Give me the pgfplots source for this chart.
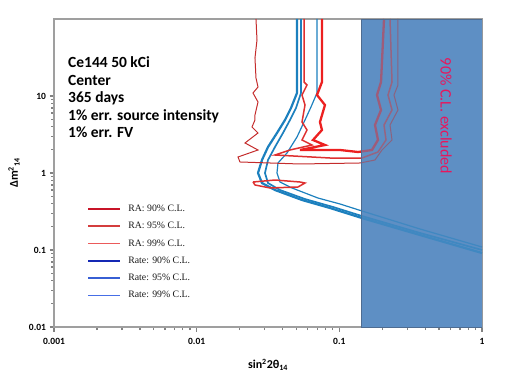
\documentclass[border=0pt]{standalone}
\usepackage{fontspec}
\setmainfont{Carlito}
\newfontfamily\serifleg{Liberation Serif}
\usepackage{pgfplots}
\pgfplotsset{compat=1.18}
\definecolor{rateblue}{RGB}{28,128,190}
\definecolor{redA}{RGB}{236,32,32}
\definecolor{redB}{RGB}{222,48,48}
\definecolor{redC}{RGB}{196,44,44}
\definecolor{legRa}{RGB}{200,20,40}
\definecolor{legRb}{RGB}{212,62,62}
\definecolor{legRc}{RGB}{235,90,90}
\definecolor{legBa}{RGB}{20,40,180}
\definecolor{legBb}{RGB}{55,95,212}
\definecolor{legBc}{RGB}{70,110,230}
\definecolor{exclblue}{RGB}{94,143,196}
\definecolor{exclborder}{RGB}{78,108,145}
\definecolor{exctext}{RGB}{232,22,92}
\definecolor{axgray}{RGB}{130,130,130}
\begin{document}
\begin{tikzpicture}
\path[use as bounding box] (0,0) rectangle (506pt,383pt);
\begin{axis}[
  at={(54pt,56pt)}, anchor=south west,
  width=428pt, height=308pt, scale only axis,
  xmode=log, ymode=log,
  xmin=0.001, xmax=1, ymin=0.01, ymax=100,
  xtick={0.001,0.01,0.1,1}, xticklabels={0.001,0.01,0.1,1},
  ytick={0.01,0.1,1,10}, yticklabels={0.01,0.1,1,10},
  minor xtick={0.002,0.003,0.004,0.005,0.006,0.007,0.008,0.009,0.02,0.03,0.04,0.05,0.06,0.07,0.08,0.09,0.2,0.3,0.4,0.5,0.6,0.7,0.8,0.9},
  minor ytick={},
  xtick pos=left, ytick pos=left,
  tick align=outside,
  major tick length=4.5pt, minor tick length=3pt,
  xtick style={draw=axgray, line width=1.3pt},
  ytick style={draw=axgray, line width=1.3pt},
  axis line style={draw=gray!75, line width=1.3pt},
  /pgf/number format/assume math mode=true,
  ticklabel style={font=\bfseries\fontsize{9.5}{10}\selectfont},
  xticklabel style={yshift=-3pt},
  legend style={draw=none, fill=none, at={(0.07,0.405)}, anchor=north west,
    font=\serifleg\fontsize{9.8}{10}\selectfont, text=gray!20!black,
    nodes={inner sep=0pt, text height=7pt, text depth=2pt},
    row sep=8.3pt, /tikz/every odd column/.style={column sep=7pt}},
  legend cell align=left,
  legend image code/.code={\draw[#1] (0pt,0pt) -- (32pt,0pt);},
]
% opaque excluded region
\fill[exclblue] (axis cs:0.1419,0.01) rectangle (axis cs:1,100);

% Rate contours
\addplot[color=rateblue, line width=2.2pt, forget plot] coordinates {
(0.0505,100) (0.0505,10.94) (0.04584,6.99) (0.0416,4.88) (0.03657,3.31) (0.03162,2.177) (0.0287,1.475) (0.02691,1.0) (0.0287,0.741) (0.0354,0.601) (0.05475,0.446) (0.08602,0.351) (0.1442,0.260) (0.3677,0.1566) (1.0,0.0914)};
\addplot[color=rateblue, line width=1.7pt, forget plot] coordinates {
(0.05387,100) (0.05387,10.94) (0.04969,6.99) (0.0451,4.88) (0.04028,3.31) (0.0354,2.177) (0.03162,1.475) (0.03012,1.0) (0.03162,0.741) (0.03838,0.601) (0.05746,0.459) (0.09028,0.362) (0.1442,0.276) (0.3677,0.1663) (1.0,0.1)};
\addplot[color=rateblue, line width=1.2pt, forget plot] coordinates {
(0.06973,100) (0.06973,10.94) (0.0633,7.20) (0.05746,4.88) (0.0505,2.935) (0.04297,1.819) (0.03716,1.349) (0.03657,1.0) (0.03838,0.764) (0.04658,0.639) (0.07087,0.473) (0.1011,0.396) (0.1442,0.321) (0.3677,0.1874) (1.0,0.1094)};

% RA contours
\addplot[color=redC, line width=1.0pt, forget plot] coordinates {
(0.02605,100) (0.02648,53.4) (0.02563,31.2) (0.02605,17.13) (0.02691,13.09) (0.02482,10.94) (0.02691,8.36) (0.02563,5.67) (0.02563,4.88) (0.02442,3.96) (0.02691,3.31) (0.02182,2.453) (0.02691,1.99) (0.01949,1.614) (0.02012,1.39) (0.05301,1.309) (0.1396,1.349) (0.1778,1.475) (0.1991,1.99) (0.234,2.683) (0.2266,4.20) (0.2577,6.58) (0.2416,10.30) (0.2577,13.89) (0.2577,100)};
\addplot[color=redB, line width=1.5pt, forget plot] coordinates {
(0.05654,100) (0.05654,15.2) (0.05934,13.89) (0.05475,10.30) (0.05746,7.64) (0.05475,4.60) (0.05934,3.62) (0.05475,2.683) (0.06432,2.31) (0.0451,1.99) (0.0354,1.713) (0.08602,1.566) (0.1442,1.566) (0.1866,1.874) (0.2124,2.683) (0.2057,4.20) (0.234,6.58) (0.2194,10.30) (0.234,15.2) (0.2266,100)};
\addplot[color=redB, line width=1.5pt, forget plot] coordinates {
(0.02482,0.764) (0.0354,0.811) (0.05301,0.764) (0.05746,0.741) (0.05132,0.658) (0.03266,0.639) (0.02563,0.699) (0.02482,0.764)};
\addplot[color=redA, line width=2.3pt, forget plot] coordinates {
(0.07558,100) (0.07558,15.2) (0.06973,10.30) (0.07933,7.64) (0.07318,4.60) (0.07558,3.62) (0.06537,2.683) (0.07933,2.31) (0.05301,1.99) (0.1011,1.99) (0.1352,1.874) (0.1694,1.99) (0.1866,2.683) (0.1778,4.20) (0.196,6.58) (0.1837,10.30) (0.196,15.2) (0.2057,100)};

% translucent overlay of excluded region
\fill[exclblue, fill opacity=0.55] (axis cs:0.1419,0.01) rectangle (axis cs:1,100);
\draw[exclborder, line width=0.9pt] (axis cs:0.1419,0.01) rectangle (axis cs:1,100);

% legend
\addlegendimage{color=legRa, line width=2.2pt}
\addlegendentry{RA: 90\% C.L.}
\addlegendimage{color=legRb, line width=1.6pt}
\addlegendentry{RA: 95\% C.L.}
\addlegendimage{color=legRc, line width=1.2pt}
\addlegendentry{RA: 99\% C.L.}
\addlegendimage{color=legBa, line width=2.2pt}
\addlegendentry{Rate: 90\% C.L.}
\addlegendimage{color=legBb, line width=1.6pt}
\addlegendentry{Rate: 95\% C.L.}
\addlegendimage{color=legBc, line width=1.3pt}
\addlegendentry{Rate: 99\% C.L.}
\end{axis}
\begin{scope}[every node/.style={anchor=base west, inner sep=0pt, font=\bfseries\fontsize{15.5}{16}\selectfont}]
\node at (68pt,315pt) {Ce144 50 kCi};
\node at (68pt,297.5pt) {Center};
\node at (68pt,280pt) {365 days};
\node at (68pt,262.5pt) {1\% err. source intensity};
\node at (68pt,245pt) {1\% err. FV};
\end{scope}
\node[rotate=90, font=\bfseries\fontsize{12}{12}\selectfont] at (14pt,210pt) {Δm\textsuperscript{2}\textsubscript{14}};
\node[font=\bfseries\fontsize{12}{12}\selectfont] at (268pt,18pt) {sin\textsuperscript{2}2θ\textsubscript{14}};
\node[rotate=-90, text=exctext, font=\fontsize{16}{16}\selectfont] at (446pt,267pt) {90\% C.L. excluded};
\end{tikzpicture}
\end{document}
